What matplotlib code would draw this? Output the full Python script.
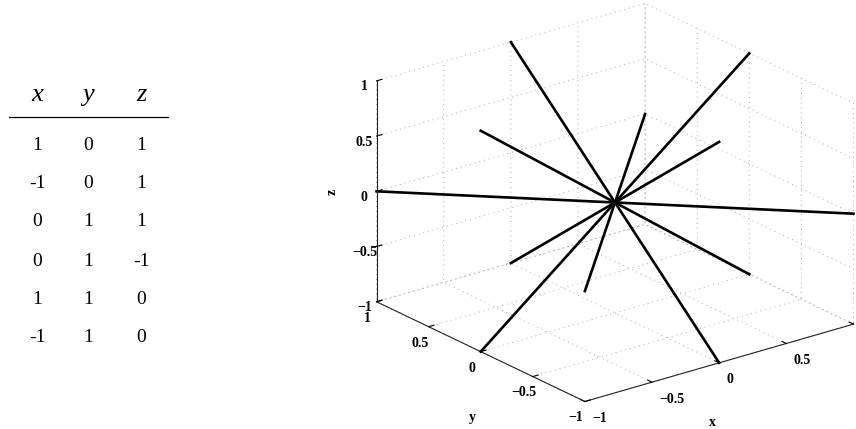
import numpy as np
import matplotlib
matplotlib.use("Agg")
import matplotlib.pyplot as plt
from mpl_toolkits.mplot3d import proj3d

# direction vectors listed in the table
vx = [1, -1, 0, 0, 1, -1]
vy = [0, 0, 1, 1, 1, 1]
vz = [1, 1, 1, -1, 0, 0]

ticks = [-1, -0.5, 0, 0.5, 1]
tick_labels = ['\u22121', '\u22120.5', '0', '0.5', '1']

plt.rcParams['font.family'] = ['Liberation Serif', 'DejaVu Serif']

W, H = 856, 429
fig = plt.figure(figsize=(W / 100, H / 100), dpi=100)

# ---- table on the left ----
col_x = [37, 88, 141]
for cx, name in zip(col_x, ['x', 'y', 'z']):
    fig.text(cx / W, 1 - 95 / H, name, ha='center', va='center',
             fontsize=19, style='italic')
fig.add_artist(plt.Line2D([9 / W, 168 / W], [1 - 117 / H] * 2,
                          color='black', lw=0.9))
row_y = [145, 184, 222, 261, 299, 337]
for i, ry in enumerate(row_y):
    for cx, val in zip(col_x, (vx[i], vy[i], vz[i])):
        fig.text(cx / W, 1 - ry / H, str(val), ha='center', va='center',
                 fontsize=14)

# ---- 3d plot ----
side = 300
ax = fig.add_axes([0.45, 0.1, side / W, side / H],
                  projection='3d', proj_type='ortho')
ax.view_init(elev=21.8, azim=-127.8)
ax.set_box_aspect((1, 1, 0.7))

for x, y, z in zip(vx, vy, vz):
    ax.plot([-x, x], [-y, y], [-z, z], color='black', lw=1.9)

ax.set_xlim(-1, 1)
ax.set_ylim(-1, 1)
ax.set_zlim(-1, 1)
for axis in (ax.xaxis, ax.yaxis, ax.zaxis):
    axis.set_ticks(ticks)
    axis.set_ticklabels(tick_labels, fontsize=10, fontweight='bold')
    axis.set_pane_color((1, 1, 1, 0))
    axis.pane.set_edgecolor((1, 1, 1, 0))
    axis.line.set_color('#222222')
    axis.line.set_linewidth(0.8)
    axis._axinfo['tick'].update(inward_factor=0.0, outward_factor=0.25)
    axis._axinfo['grid'].update(color='#a6a6a6', linewidth=0.7,
                                linestyle=(0, (1, 4)))
ax.xaxis.set_ticklabels(tick_labels, fontsize=10, fontweight='bold',
                        ha='left')
ax.xaxis.set_tick_params(pad=-1.5)
ax.yaxis.set_tick_params(pad=-1.5)
ax.zaxis.set_tick_params(pad=-3)

# axis names placed by hand
ax.set_xlabel('')
ax.set_ylabel('')
ax.set_zlabel('')
lab = dict(fontsize=10, fontweight='bold', ha='center', va='center')
fig.text(712 / W, 1 - 422 / H, 'x', **lab)
fig.text(472 / W, 1 - 418 / H, 'y', **lab)
fig.text(332 / W, 1 - 192 / H, 'z', rotation=90, **lab)

# scale and place the box so its corners land where wanted
fig.canvas.draw()
corners = np.array([[-1, 1, 1], [1, -1, -1]])
px, py, _ = proj3d.proj_transform(corners[:, 0], corners[:, 1], corners[:, 2],
                                   ax.get_proj())
got = ax.transData.transform(np.column_stack([px, py]))
want = np.array([[377, H - 80], [853, H - 325]], dtype=float)
k = np.linalg.norm(want[1] - want[0]) / np.linalg.norm(got[1] - got[0])
pos = ax.get_position()
c = np.array([(pos.x0 + pos.width / 2) * W, (pos.y0 + pos.height / 2) * H])
c_new = want.mean(axis=0) - k * (got.mean(axis=0) - c)
s_new = side * k
ax.set_position([(c_new[0] - s_new / 2) / W, (c_new[1] - s_new / 2) / H,
                 s_new / W, s_new / H])

fig.savefig('out.png', dpi=100)
